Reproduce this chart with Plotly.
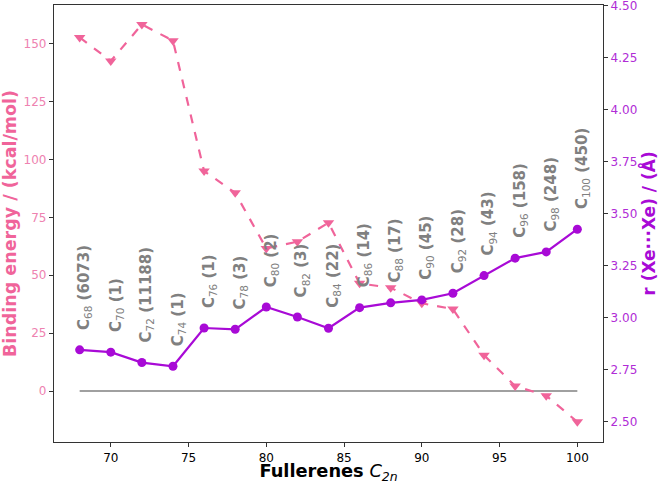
import plotly.graph_objects as go

sizes = [68, 70, 72, 74, 76, 78, 80, 82, 84, 86, 88, 90, 92, 94, 96, 98, 100]
isomers = [6073, 1, 11188, 1, 1, 3, 2, 3, 22, 14, 17, 45, 28, 43, 158, 248, 450]
binding_energy = [152.7, 142.5, 158.3, 151.3, 95.0, 85.6, 61.6, 64.5, 72.7, 46.5, 44.6,
                  37.9, 35.4, 15.5, 2.2, -2.0, -13.3]
r_xexe = [2.845, 2.834, 2.784, 2.766, 2.950, 2.944, 3.051, 3.003, 2.949, 3.048, 3.071,
          3.085, 3.117, 3.202, 3.286, 3.316, 3.425]

PINK = "#F0649A"
PINK_TICK = "#EE82B0"
PURPLE = "#A80AD6"
PURPLE_TICK = "#B02CD6"
GRAY = "#808080"
FONT = "DejaVu Sans"

fig = go.Figure()
fig.add_trace(go.Scatter(x=[sizes[0], sizes[-1]], y=[0, 0], mode="lines",
                         line=dict(color=GRAY, width=1.6), yaxis="y", showlegend=False))
fig.add_trace(go.Scatter(x=sizes, y=binding_energy, mode="lines+markers",
                         line=dict(color=PINK, width=2.2, dash="dash"),
                         marker=dict(symbol="triangle-down", size=10, color=PINK),
                         yaxis="y", showlegend=False))
fig.add_trace(go.Scatter(x=sizes, y=r_xexe, mode="lines+markers",
                         line=dict(color=PURPLE, width=2.2),
                         marker=dict(symbol="circle", size=9, color=PURPLE),
                         yaxis="y2", showlegend=False))

for n, k, r in zip(sizes, isomers, r_xexe):
    fig.add_annotation(x=n, y=r, xref="x", yref="y2",
                       text=f"<b>C</b><sub>{n}</sub><b> ({k})</b>",
                       textangle=-90, showarrow=False, xanchor="center", yanchor="bottom",
                       yshift=18, xshift=5,
                       font=dict(family=FONT, size=15, color=GRAY))

fig.update_layout(
    width=661, height=484,
    margin=dict(l=54, r=58, t=5, b=42, autoexpand=False),
    plot_bgcolor="white", paper_bgcolor="white",
    font=dict(family=FONT),
    xaxis=dict(range=[66.35, 101.65], tickvals=[70, 75, 80, 85, 90, 95, 100],
               ticks="outside", ticklen=4, tickcolor="#333", showgrid=False, zeroline=False,
               showline=True, linecolor="#333", linewidth=1.3, mirror=True,
               ticklabeloverflow="allow",
               tickfont=dict(family=FONT, size=12, color="black"),
               title=dict(text="<b>Fullerenes</b> <i>C</i><sub><i>2n</i></sub>",
                          font=dict(family=FONT, size=17.8, color="black"), standoff=2)),
    yaxis=dict(range=[-22.0, 166.7], tickvals=[0, 25, 50, 75, 100, 125, 150],
               ticks="outside", ticklen=4, tickcolor="#333", showgrid=False, zeroline=False,
               showline=True, linecolor="#333", linewidth=1.3,
               ticklabeloverflow="allow",
               tickfont=dict(family=FONT, size=12, color=PINK_TICK),
               title=dict(text="<b>Binding energy / (kcal/mol)</b>",
                          font=dict(family=FONT, size=17.5, color=PINK), standoff=5)),
    yaxis2=dict(range=[2.402, 4.503], tickvals=[2.5, 2.75, 3.0, 3.25, 3.5, 3.75, 4.0, 4.25, 4.5],
                ticktext=["2.50", "2.75", "3.00", "3.25", "3.50", "3.75", "4.00", "4.25", "4.50"],
                overlaying="y", side="right",
                ticks="outside", ticklen=4, tickcolor="#333", showgrid=False, zeroline=False,
                showline=True, linecolor="#333", linewidth=1.3,
                ticklabeloverflow="allow",
                tickfont=dict(family=FONT, size=12, color=PURPLE_TICK),
                title=dict(text="<b>r (Xe···Xe) / (Å)</b>",
                           font=dict(family=FONT, size=17, color=PURPLE), standoff=6)),
)

fig.write_html("out.html", config={"displayModeBar": False},
               post_script="document.body.style.margin='0';document.body.style.overflow='hidden';")
